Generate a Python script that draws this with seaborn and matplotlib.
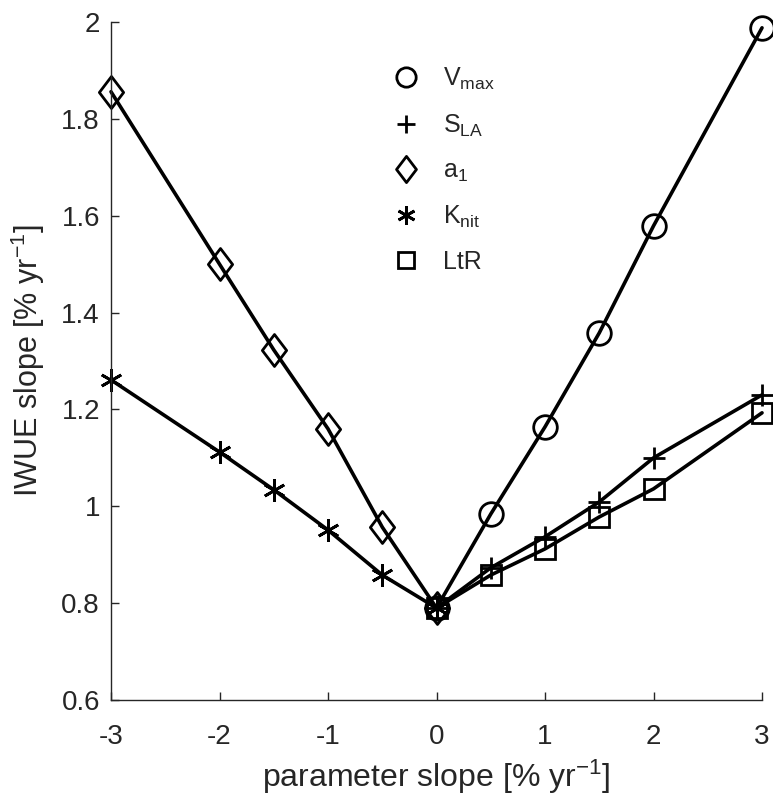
import pandas as pd
import seaborn as sns
import matplotlib.pyplot as plt
from matplotlib.lines import Line2D
from matplotlib.path import Path

# values
x_pos = [0, 0.5, 1, 1.5, 2, 3]
x_neg = [-3, -2, -1.5, -1, -0.5, 0]
vmax = [0.79, 0.984, 1.164, 1.358, 1.579, 1.988]
sla = [0.79, 0.873, 0.937, 1.009, 1.10, 1.23]
ltr = [0.79, 0.858, 0.912, 0.978, 1.036, 1.193]
a1 = [1.856, 1.50, 1.323, 1.16, 0.957, 0.79]
knit = [1.261, 1.112, 1.034, 0.951, 0.858, 0.79]

labels = [r'V$_{max}$', r'S$_{LA}$', r'a$_{1}$', r'K$_{nit}$', 'LtR']
xticks = [-3, -2, -1, 0, 1, 2, 3]
yticks = [0.6, 0.8, 1.0, 1.2, 1.4, 1.6, 1.8, 2.0]
ytick_labels = ['0.6', '0.8', '1', '1.2', '1.4', '1.6', '1.8', '2']

sns.set_theme(style="ticks")
plt.rcParams['font.family'] = ['Liberation Sans', 'DejaVu Sans']
plt.rcParams['mathtext.default'] = 'regular'

# matlab style diamond (taller than wide)
diamond = Path([(0, 1), (0.76, 0), (0, -1), (-0.76, 0), (0, 1)],
               [Path.MOVETO, Path.LINETO, Path.LINETO, Path.LINETO, Path.CLOSEPOLY])

fig = plt.figure(figsize=(7.73, 8), dpi=100)
ax = fig.add_axes([0.1436, 0.125, 0.8422, 0.8475])

series = [
    (x_pos, vmax, 'o', 17),
    (x_pos, sla, '+', 16),
    (x_neg, a1, diamond, 23),
    (x_neg, knit, (6, 2, 0), 16),
    (x_pos, ltr, 's', 14.5),
]

handles = []
for (xs, ys, mk, ms), lab in zip(series, labels):
    df = pd.DataFrame({'x': xs, 'y': ys})
    sns.lineplot(data=df, x='x', y='y', ax=ax, color='black', linewidth=2.6,
                 marker=mk, markersize=ms, markerfacecolor='none',
                 markeredgecolor='black', markeredgewidth=2, clip_on=False)
    handles.append(Line2D([], [], linestyle='none', marker=mk, color='black',
                          markerfacecolor='none', markeredgewidth=2,
                          markersize=ms * 0.82, label=lab))

ax.set_xlim(-3, 3)
ax.set_ylim(0.6, 2)
ax.set_xticks(xticks)
ax.set_xticklabels([str(t) for t in xticks])
ax.set_yticks(yticks)
ax.set_yticklabels(ytick_labels)
ax.tick_params(direction='in', length=6, width=1, colors='#262626',
               labelsize=20)
ax.tick_params(axis='x', pad=17)
ax.tick_params(axis='y', pad=8)
for s in ['left', 'bottom']:
    ax.spines[s].set_color('#262626')
    ax.spines[s].set_linewidth(1)
sns.despine(ax=ax)

ax.set_xlabel(r'parameter slope [% yr$^{-1}$]', fontsize=23, color='#262626',
              labelpad=6)
ax.set_ylabel(r'IWUE slope [% yr$^{-1}$]', fontsize=22, color='#262626',
              labelpad=10)

ax.legend(handles=handles, loc='upper left', bbox_to_anchor=(0.395, 0.968),
          frameon=False, fontsize=18, handlelength=1.2, handletextpad=0.9,
          labelspacing=0.8)

fig.savefig('out.png', dpi=100)
